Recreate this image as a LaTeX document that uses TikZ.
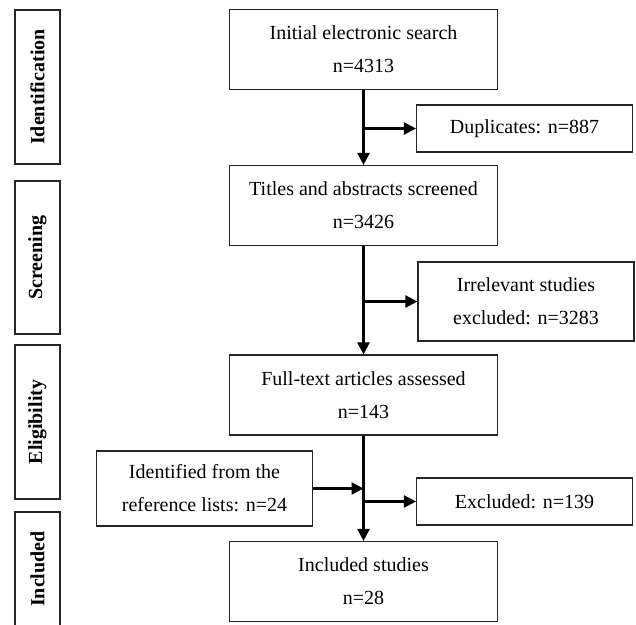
\documentclass[tikz,border=0pt]{standalone}
\usepackage{fontspec}
\setmainfont{Liberation Serif}
\usetikzlibrary{arrows.meta}
\begin{document}
\begin{tikzpicture}[x=1pt,y=-1pt,
  box/.style={draw=black!85,line width=1.1pt,inner sep=0pt,align=center,
    font=\fontsize{20}{33}\selectfont},
  mainbox/.style={box,minimum width=268pt,minimum height=80pt},
  sidebox/.style={box,minimum width=216pt},
  stage/.style={draw=black!85,line width=1.1pt,inner sep=0pt,rotate=90,
    minimum height=45pt,font=\fontsize{20}{24}\selectfont\bfseries},
  flow/.style={line width=2.2pt,-{Triangle[length=12pt,width=12pt]}}]
\useasboundingbox (0,0) rectangle (636,624);
% stage labels
\node[stage,minimum width=154pt] (sid) at (37.5,87) {Identification};
\node[stage,minimum width=153pt] (ssc) at (37.5,257.5) {Screening};
\node[stage,minimum width=154pt] (sel) at (37.5,422) {Eligibility};
\node[stage,minimum width=114pt] (sin) at (37.5,569) {Included};
% main boxes
\node[mainbox] (init) at (363.5,49.5) {Initial electronic search\\n=4313};
\node[mainbox] (title) at (363.5,205.5) {Titles and abstracts screened\\n=3426};
\node[mainbox] (full) at (363.5,395) {Full-text articles assessed\\n=143};
\node[mainbox] (incl) at (363.5,581.5) {Included studies\\n=28};
% side boxes
\node[sidebox,minimum height=47pt] (dup) at (524.5,128.5) {Duplicates: n=887};
\node[sidebox,minimum height=79pt] (irr) at (526,301.5) {Irrelevant studies\\excluded: n=3283};
\node[sidebox,minimum height=75pt] (idf) at (204.5,488.5) {Identified from the\\reference lists: n=24};
\node[sidebox,minimum height=47pt] (exc) at (524.5,501.5) {Excluded: n=139};
% connectors
\coordinate (b1) at (init.south |- dup.west);
\coordinate (b2) at (title.south |- irr.west);
\coordinate (b3) at (full.south |- idf.east);
\coordinate (b4) at (full.south |- exc.west);
\draw[flow] (init.south) -- (title.north);
\draw[flow] (b1) -- (dup.west);
\draw[flow] (title.south) -- (full.north);
\draw[flow] (b2) -- (irr.west);
\draw[flow] (full.south) -- (incl.north);
\draw[flow] (idf.east) -- (b3);
\draw[flow] (b4) -- (exc.west);
\end{tikzpicture}
\end{document}
